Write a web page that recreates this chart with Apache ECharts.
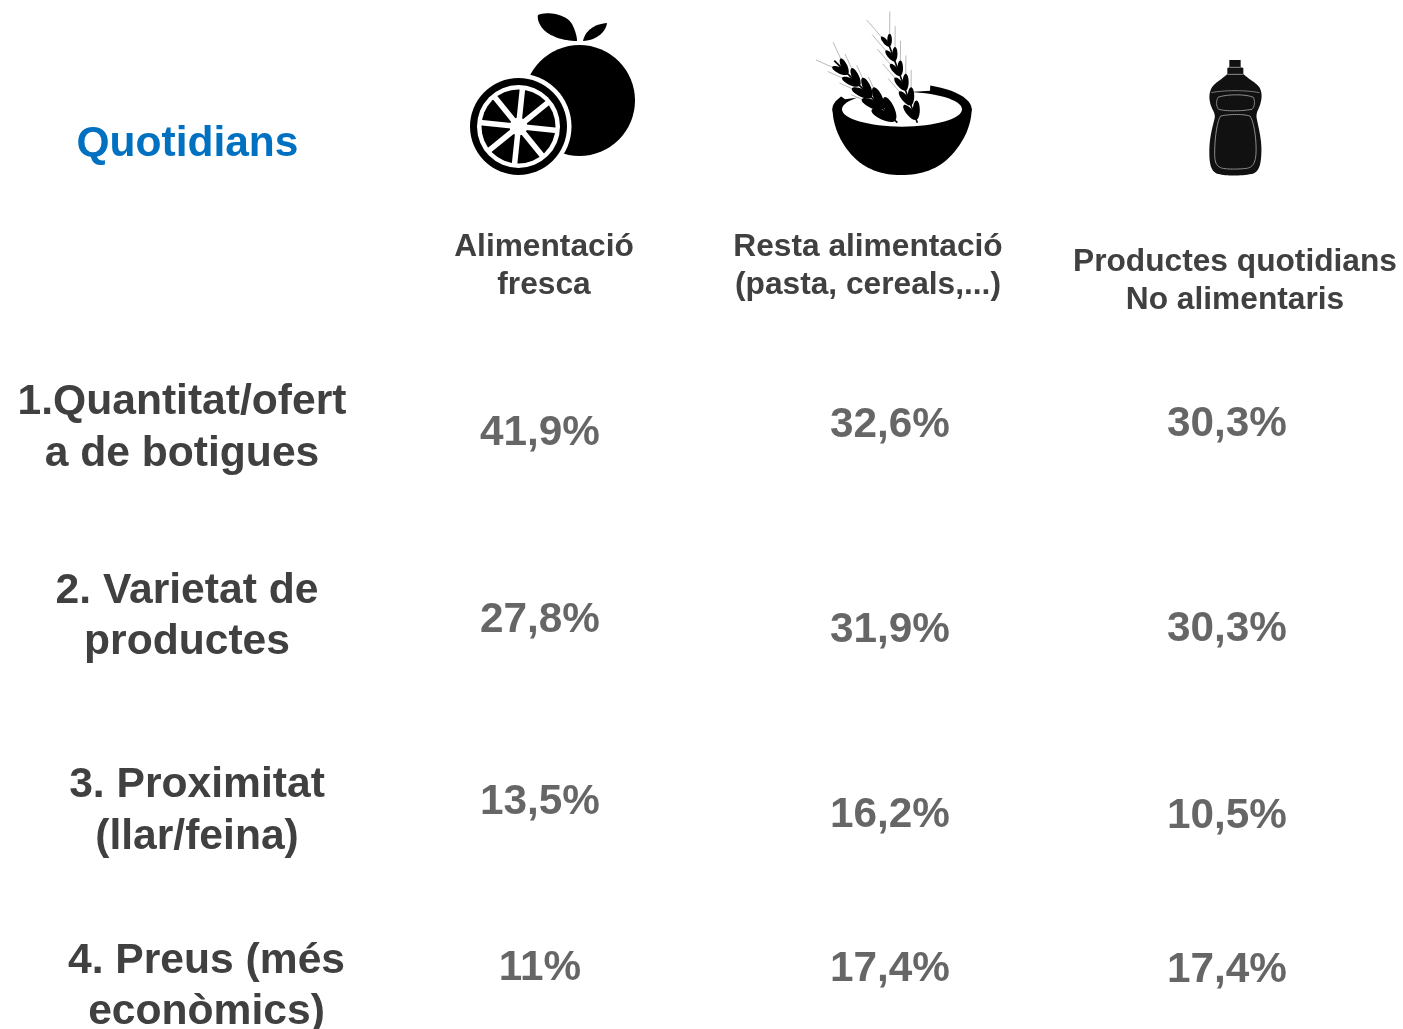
<!DOCTYPE html>
<html><head><meta charset="utf-8">
<style>html,body{margin:0;padding:0;background:#fff}#c{width:1403px;height:1029px}</style>
<script src="https://cdn.jsdelivr.net/npm/echarts@6/dist/echarts.min.js"></script>
</head><body><div id="c"></div>
<script>
const title = 'Quotidians';
const columns = ['Alimentació\nfresca', 'Resta alimentació\n(pasta, cereals,...)', 'Productes quotidians\nNo alimentaris'];
const rows = ['1.Quantitat/ofert\na de botigues', '2. Varietat de\nproductes', '3. Proximitat\n(llar/feina)', '4. Preus (més\neconòmics)'];
const alimentacioFresca = ['41,9%', '27,8%', '13,5%', '11%'];
const restaAlimentacio = ['32,6%', '31,9%', '16,2%', '17,4%'];
const productesQuotidians = ['30,3%', '30,3%', '10,5%', '17,4%'];
const seriesValues = [alimentacioFresca, restaAlimentacio, productesQuotidians];

// layout only (pixels)
const colOffsetX = [0, 6.5, 0];
const cellOffsetY = [[8.6, 22.9, 32.1, 25.4], [0.6, 32.9, 45.1, 26.4], [-0.4, 31.9, 46.1, 27.4]];
const headerPos = [[544, 266], [868, 266], [1235, 281]];
const rowPos = [[182, 428], [187, 616.5], [197, 811], [206.5, 986.5]];

const INK = '#404040';
const FONT = '"Liberation Sans", Arial, sans-serif';
const data = [];
seriesValues.forEach((vals, c) => vals.forEach((v, r) => data.push({
  value: [c, r], text: v,
  label: { show: true, position: 'inside', align: 'center', verticalAlign: 'middle',
    formatter: v, fontFamily: FONT, fontWeight: 'bold', fontSize: 42.3, color: INK,
    offset: [colOffsetX[c], cellOffsetY[c][r]] }
})));

function txt(x, y, s, size, fill, lh) {
  return { type: 'text', x, y, z: 10, style: {
    text: s, fill: fill, font: 'bold ' + size + 'px ' + FONT,
    align: 'center', verticalAlign: 'middle', lineHeight: lh } };
}
const K = '#000', W = '#fff';
const circ = (cx, cy, r, fill, z) => ({ type: 'circle', z: z, shape: { cx, cy, r }, style: { fill } });

// flatten an "M.. C.. L.." outline to points for polygon / polyline shapes
function outline(d) {
  const t = d.match(/[MLCZ]|-?[\d.]+/g);
  const pts = []; let i = 0, cmd = 'M', cur = [0, 0];
  const num = () => parseFloat(t[i++]);
  while (i < t.length) {
    if (/^[MLCZ]$/.test(t[i])) { cmd = t[i++]; if (cmd === 'Z') continue; }
    if (cmd === 'C') {
      const a = [num(), num()], b = [num(), num()], c = [num(), num()];
      for (let k = 1; k <= 16; k++) {
        const u = k / 16, v = 1 - u;
        pts.push([v*v*v*cur[0] + 3*v*v*u*a[0] + 3*v*u*u*b[0] + u*u*u*c[0],
                  v*v*v*cur[1] + 3*v*v*u*a[1] + 3*v*u*u*b[1] + u*u*u*c[1]]);
      }
      cur = c;
    } else { cur = [num(), num()]; pts.push(cur); }
  }
  return pts;
}
const fillShape = (d, fill, z) => ({ type: 'polygon', z, shape: { points: outline(d) }, style: { fill } });
const lineShape = (d, stroke, w, z) => ({ type: 'polyline', z, shape: { points: outline(d) }, style: { fill: 'none', stroke, lineWidth: w } });

// Orange icon
const orange = [
  circ(579.5, 100.5, 55.5, K, 1),
  fillShape('M538 15 C548 11 566 14 572 24 C575 30 577 36 577 41 C563 41 549 36 543 29 C539 24 537 19 538 15 Z', K, 1),
  fillShape('M583 41 C585 31 594 24 607 23 C606 31 598 40 583 41 Z', K, 1),
  circ(518.5, 126.5, 53, W, 2),
  circ(518.5, 126.5, 48.5, K, 3),
  circ(518.5, 126.5, 41.5, W, 4),
  circ(518.5, 126.5, 37, K, 5)
];
for (let i = 0; i < 8; i++) {
  const a = (6 + i * 45) * Math.PI / 180;
  orange.push({ type: 'line', z: 6, shape: { x1: 518.5, y1: 126.5, x2: 518.5 + 39 * Math.sin(a), y2: 126.5 - 39 * Math.cos(a) }, style: { stroke: W, lineWidth: 5.5 } });
}
orange.push(circ(518.5, 126.5, 9, W, 7));

// Bowl icon (own coordinates: 3x zoom of the picture)
const bowlChildren = [
  fillShape('M68 300 C68 330 80 385 125 435 C165 478 215 495 272 495 C335 495 385 478 425 435 C470 385 485 335 485 295 L68 295 Z', K, 1),
  { type: 'ellipse', z: 2, shape: { cx: 276, cy: 298, rx: 209, ry: 78 }, style: { fill: K } },
  { type: 'ellipse', z: 3, shape: { cx: 276, cy: 298, rx: 180, ry: 52 }, style: { fill: W } },
  { type: 'polygon', z: 4, shape: { points: [[105, 268], [92, 258], [130, 205], [362, 205], [360, 242], [240, 250]] }, style: { fill: W } }
];
function ear(x0, y0, x1, y1, n, size, z, t0) {
  const dx = x1 - x0, dy = y1 - y0, L = Math.hypot(dx, dy), ux = dx / L, uy = dy / L;
  const deg = Math.atan2(dy, dx);
  const out = [{ type: 'line', z, shape: { x1: x0 + ux * 60, y1: y0 + uy * 60, x2: x1, y2: y1 }, style: { stroke: K, lineWidth: 5 } }];
  for (let i = 0; i < n; i++) {
    const t = t0 + (0.97 - t0) * i / (n - 1);
    const px = x0 + dx * t, py = y0 + dy * t;
    [-1, 1].forEach(side => {
      const ang = deg + Math.PI + side * 0.36;
      const s = size * (0.8 + 0.4 * i / (n - 1));
      const ax = px + Math.cos(ang) * 105, ay = py + Math.sin(ang) * 105;
      if (i < n - 1) out.push({ type: 'line', z: z - 1, shape: { x1: px, y1: py, x2: ax, y2: ay }, style: { stroke: '#a8a8a8', lineWidth: 2.4 } });
      out.push({ type: 'ellipse', z, x: px + Math.cos(ang) * s, y: py + Math.sin(ang) * s, rotation: -ang,
        shape: { cx: 0, cy: 0, rx: s, ry: s * 0.36 }, style: { fill: K } });
    });
  }
  return out;
}
const earL = ear(30, 110, 262, 338, 5, 32, 6, 0.36);
const earR = ear(215, 45, 322, 338, 6, 24, 8, 0.22);
const bowl = { type: 'group', x: 810, y: 10, scaleX: 1 / 3, scaleY: 1 / 3, children: bowlChildren.concat(earL, earR) };

// Bottle icon (own coordinates: 3x zoom of the picture)
const LINE = '#8f8f8f';
const bottle = { type: 'group', x: 1190, y: 50, scaleX: 1 / 3, scaleY: 1 / 3, children: [
  fillShape('M118 30 L152 30 L152 52 L160 54 L160 72 C172 85 195 95 208 112 C218 128 216 150 208 170 C202 185 198 190 200 205 C206 235 216 270 214 310 C213 345 206 368 185 372 C150 378 110 378 85 372 C65 368 58 345 58 310 C57 270 66 235 74 205 C76 190 70 185 64 170 C56 150 56 128 66 112 C78 95 100 85 112 72 L112 54 L118 52 Z', '#111', 1),
  { type: 'line', z: 2, shape: { x1: 118, y1: 52, x2: 152, y2: 52 }, style: { stroke: LINE, lineWidth: 3 } },
  { type: 'line', z: 2, shape: { x1: 112, y1: 73, x2: 160, y2: 73 }, style: { stroke: LINE, lineWidth: 3 } },
  lineShape('M64 128 C100 120 170 120 208 128', LINE, 2.5, 2),
  lineShape('M84 142 C110 132 170 132 190 142 C196 155 194 170 186 178 C150 184 110 184 86 178 C78 168 78 152 84 142', LINE, 3, 2),
  lineShape('M92 198 C120 192 160 192 180 198 C192 215 200 270 198 310 C196 340 188 352 170 355 C145 358 115 358 98 355 C80 350 74 340 74 310 C74 270 80 215 92 198', LINE, 3, 2)
] };

const graphics = [txt(187.5, 144, title, 42.5, '#0070C0')]
  .concat(columns.map((s, i) => txt(headerPos[i][0], headerPos[i][1], s, 31.7, INK, 38)))
  .concat(rows.map((s, i) => txt(rowPos[i][0], rowPos[i][1], s, 42.6, INK, 51.5)))
  .concat(orange, [bowl, bottle]);

const chart = echarts.init(document.getElementById('c'), null, { renderer: 'canvas' });
chart.setOption({
  animation: false,
  backgroundColor: '#fff',
  grid: { left: 368.25, width: 1030.5, top: 338, height: 691 },
  xAxis: { type: 'category', data: columns, show: false },
  yAxis: { type: 'category', data: rows, inverse: true, show: false },
  graphic: graphics,
  series: [{ type: 'scatter', symbolSize: 0, clip: false, data }]
});
</script></body></html>
